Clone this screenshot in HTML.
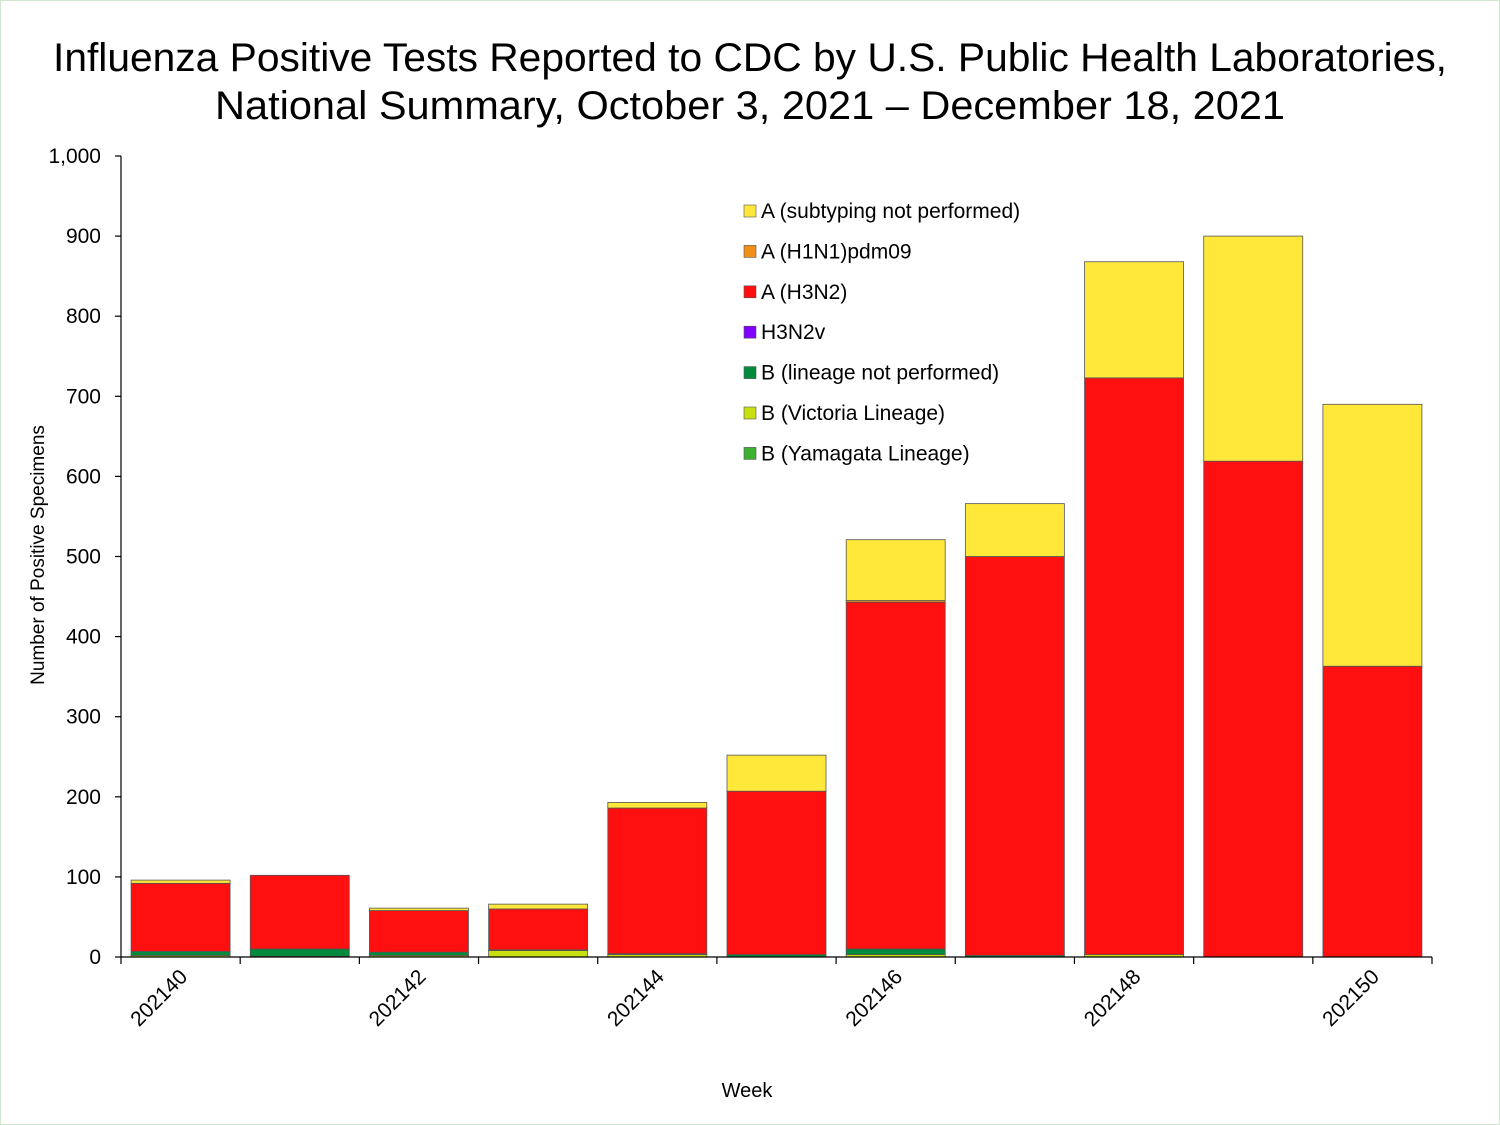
<!DOCTYPE html>
<html><head><meta charset="utf-8"><style>
html,body{margin:0;padding:0;background:#fff;}
svg{display:block;font-family:"Liberation Sans",Arial,sans-serif;}
</style></head><body>
<svg id="chart" width="1500" height="1125" viewBox="0 0 1500 1125">
<rect x="0.5" y="0.5" width="1499" height="1124" fill="#fff" stroke="#cfe8cf"/>
<text x="750" y="71" text-anchor="middle" font-size="40" textLength="1394" lengthAdjust="spacingAndGlyphs">Influenza Positive Tests Reported to CDC by U.S. Public Health Laboratories,</text>
<text x="750" y="119" text-anchor="middle" font-size="40" textLength="1070" lengthAdjust="spacingAndGlyphs">National Summary, October 3, 2021 – December 18, 2021</text>
<g id="plot"></g>
<text transform="translate(44,555) rotate(-90)" text-anchor="middle" font-size="19">Number of Positive Specimens</text>
<text x="747" y="1097" text-anchor="middle" font-size="20">Week</text>
</svg>
<script>
const weeks = ["202140","202141","202142","202143","202144","202145","202146","202147","202148","202149","202150"];
const seriesNames = ["B (Yamagata Lineage)","B (Victoria Lineage)","B (lineage not performed)","H3N2v","A (H3N2)","A (H1N1)pdm09","A (subtyping not performed)"];
const bYamagata = [0,0,0,0,0,0,0,0,0,0,0];
const bVictoria = [2,1,2,8,3,0,3,0,3,0,0];
const bLineageNP = [5,9,4,1,1,3,7,2,0,0,0];
const h3n2v = [0,0,0,0,0,0,0,0,0,0,0];
const aH3N2 = [85,92,52,51,182,204,433,498,720,619,363];
const aH1N1 = [0,0,0,0,0,0,2,0,0,0,0];
const aUnsub = [4,0,3,6,7,45,76,66,145,281,327];
const yTicks = [0,100,200,300,400,500,600,700,800,900,1000];
const yTickLabels = ["0","100","200","300","400","500","600","700","800","900","1,000"];

const colors = ["#3cb030","#c8e010","#008a3c","#8000ff","#ff1010","#f09018","#ffe83a"];
const series = [bYamagata,bVictoria,bLineageNP,h3n2v,aH3N2,aH1N1,aUnsub];
const NS="http://www.w3.org/2000/svg";
const g=document.getElementById('plot');
const x0=121,x1=1432,y0=957,yTop=156,ymax=1000;
const slot=(x1-x0)/weeks.length, bw=99;
function yScale(v){return y0-(v/ymax)*(y0-yTop);}
function xBand(i){return x0+i*slot+(slot-bw)/2;}
function mk(tag,attrs){const e=document.createElementNS(NS,tag);for(const k in attrs)e.setAttribute(k,attrs[k]);g.appendChild(e);return e;}

// bars
weeks.forEach((w,i)=>{
  let cum=0;
  series.forEach((s,j)=>{
    const v=s[i]; if(v<=0)return;
    const r=mk('rect',{x:xBand(i),y:yScale(cum+v),width:bw,height:yScale(cum)-yScale(cum+v),fill:colors[j],stroke:'#555','stroke-width':0.8});
    
    
    cum+=v;
  });
});
// axes
let a=mk('line',{x1:x0,y1:yTop,x2:x0,y2:y0,stroke:'#000','stroke-width':1.2});


a=mk('line',{x1:x0,y1:y0,x2:x1,y2:y0,stroke:'#000','stroke-width':1.2});


yTicks.forEach((t,i)=>{
  const y=yScale(t);
  const l=mk('line',{x1:x0-6,y1:y,x2:x0,y2:y,stroke:'#000','stroke-width':1.2});
  
  
  const tx=mk('text',{x:101,y:y+7,'text-anchor':'end','font-size':21});
  tx.textContent=yTickLabels[i];
  
  
});
for(let i=0;i<=weeks.length;i++){
  const x=x0+i*slot;
  const l=mk('line',{x1:x,y1:y0,x2:x,y2:y0+7,stroke:'#000','stroke-width':1.2});
  
  
}
weeks.forEach((w,i)=>{
  if(i%2)return;
  const cx=x0+i*slot+slot/2+8, cy=978;
  const tx=mk('text',{x:cx,y:cy,'text-anchor':'end','font-size':21,transform:`rotate(-45 ${cx} ${cy})`});
  tx.textContent=w;
  
  
});
// legend
for(let k=0;k<7;k++){
  const j=6-k, y=205+k*40.4;
  const r=mk('rect',{x:744,y:y,width:12,height:12,fill:colors[j],stroke:'#555','stroke-width':0.6});
  
  
  const tx=mk('text',{x:761,y:y+13,'font-size':21});
  tx.textContent=seriesNames[j];
  
  
}
</script>
</body></html>
